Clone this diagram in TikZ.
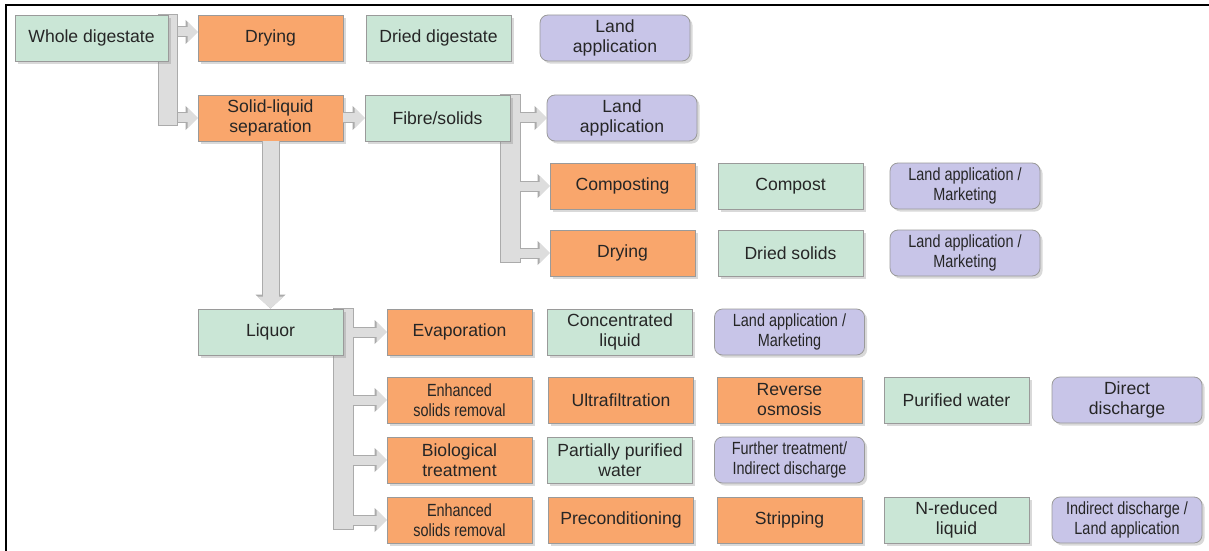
\documentclass[tikz,border=0pt]{standalone}
\usepackage{fontspec}
\setmainfont{Liberation Sans}
\newfontfamily\narrowfont[FakeStretch=0.82]{Liberation Sans}
\usetikzlibrary{arrows.meta,calc,backgrounds,shadows}
\definecolor{procorange}{HTML}{F9A66C}
\definecolor{prodgreen}{HTML}{CAE6D6}
\definecolor{uselilac}{HTML}{C8C5E8}
\definecolor{rulegray}{HTML}{9A9A9A}
\definecolor{pipegray}{HTML}{DDDDDD}
\definecolor{pipeedge}{HTML}{ABABAB}
\definecolor{inkgray}{HTML}{262626}
\tikzset{
  basebox/.style={draw=rulegray,line width=.4pt,align=center,text=inkgray,minimum width=72.5pt,minimum height=23pt,inner sep=2pt,font=\fontsize{8.8}{10}\selectfont,drop shadow={shadow xshift=1.3pt,shadow yshift=-1.3pt,opacity=.3}},
  orangebox/.style={basebox,fill=procorange},
  greenbox/.style={basebox,fill=prodgreen},
  lilacbox/.style={basebox,fill=uselilac,rounded corners=4pt,minimum width=75pt},
  narrow/.style={font=\fontsize{8.8}{10}\narrowfont},
  pipe/.style={draw=pipeedge,fill=pipegray,line width=.5pt},
  flow/.style={draw=pipegray,line width=4.5pt,-{Triangle[length=5pt,width=10pt,line width=0pt]},
    preaction={draw=pipeedge,line width=5.5pt,-{Triangle[length=6pt,width=12pt,line width=0pt]}}},
  bigflow/.style={draw=pipegray,line width=8pt,-{Triangle[length=6pt,width=13pt,line width=0pt]},
    preaction={draw=pipeedge,line width=9pt,-{Triangle[length=7pt,width=15pt,line width=0pt]}}},
}
\begin{document}
\begin{tikzpicture}[x=0.5pt,y=-0.5pt]
  \useasboundingbox (0,0) rectangle (1209,551);
  \draw[line width=1.1pt] (6,551) -- (6,5) -- (1209,5);

  \node[greenbox,minimum width=76.5pt] (whole) at (91.5,38) {Whole digestate};
  \node[orangebox] (dry1) at (270.5,38) {Drying};
  \node[greenbox] (driedd) at (438.5,38) {Dried digestate};
  \node[lilacbox] (landa) at (615,38) {Land\\application};

  \node[orangebox] (sls) at (270.5,118) {Solid-liquid\\separation};
  \node[greenbox] (fibre) at (437.5,118) {Fibre/solids};
  \node[lilacbox] (landb) at (622,118) {Land\\application};

  \node[orangebox] (compproc) at (622.5,186) {Composting};
  \node[greenbox] (compost) at (790.5,186) {Compost};
  \node[lilacbox,narrow] (markA) at (965,186) {Land application /\\Marketing};

  \node[orangebox] (dry2) at (622.5,253) {Drying};
  \node[greenbox] (driedsol) at (790.5,253) {Dried solids};
  \node[lilacbox,narrow] (markB) at (965,253) {Land application /\\Marketing};

  \node[greenbox] (liquor) at (270.5,332) {Liquor};
  \node[orangebox] (evap) at (459.5,332) {Evaporation};
  \node[greenbox] (concl) at (620,332) {Concentrated\\liquid};
  \node[lilacbox,narrow] (markC) at (789.5,332) {Land application /\\Marketing};

  \node[orangebox,narrow] (esrA) at (459.5,400) {Enhanced\\solids removal};
  \node[orangebox] (ultra) at (621,400) {Ultrafiltration};
  \node[orangebox] (revosm) at (789.5,400) {Reverse\\osmosis};
  \node[greenbox] (purw) at (956.5,400) {Purified water};
  \node[lilacbox] (direct) at (1127,400) {Direct\\discharge};

  \node[orangebox] (bio) at (459.5,460) {Biological\\treatment};
  \node[greenbox] (ppw) at (620,460) {Partially purified\\water};
  \node[lilacbox,narrow] (further) at (789.5,460) {Further treatment/\\Indirect discharge};

  \node[orangebox,narrow] (esrB) at (459.5,520) {Enhanced\\solids removal};
  \node[orangebox] (precond) at (621,520) {Preconditioning};
  \node[orangebox] (strip) at (789.5,520) {Stripping};
  \node[greenbox] (nred) at (956.5,520) {N-reduced\\liquid};
  \node[lilacbox,narrow] (indirect) at (1127,520) {Indirect discharge /\\Land application};

  \begin{scope}[on background layer]
    \draw[pipe] ($(whole.north east)+(-9.5,0)$) rectangle ($(whole.east |- sls.center)+(9.5,8)$);
    \draw[pipe] ($(fibre.north east)+(-10,0)$) rectangle ($(fibre.east |- dry2.center)+(10,9)$);
    \draw[pipe] ($(liquor.north east)+(-10,0)$) rectangle ($(liquor.east |- esrB.center)+(10,9)$);
  \end{scope}

  \draw[flow] ($(whole.east |- dry1.west)+(9.5,-6)$) -- ([yshift=3pt]dry1.west);
  \draw[flow] ($(whole.east |- sls.west)+(9.5,0)$) -- (sls.west);
  \draw[flow] (sls.east) -- (fibre.west);
  \draw[bigflow] (sls.south) -- (liquor.north);
  \draw[flow] ($(fibre.east |- landb.west)+(10,0)$) -- (landb.west);
  \draw[flow] ($(fibre.east |- compproc.west)+(10,0)$) -- (compproc.west);
  \draw[flow] ($(fibre.east |- dry2.west)+(10,0)$) -- (dry2.west);
  \draw[flow] ($(liquor.east |- evap.west)+(10,0)$) -- (evap.west);
  \draw[flow] ($(liquor.east |- esrA.west)+(10,0)$) -- (esrA.west);
  \draw[flow] ($(liquor.east |- bio.west)+(10,0)$) -- (bio.west);
  \draw[flow] ($(liquor.east |- esrB.west)+(10,0)$) -- (esrB.west);
\end{tikzpicture}
\end{document}
